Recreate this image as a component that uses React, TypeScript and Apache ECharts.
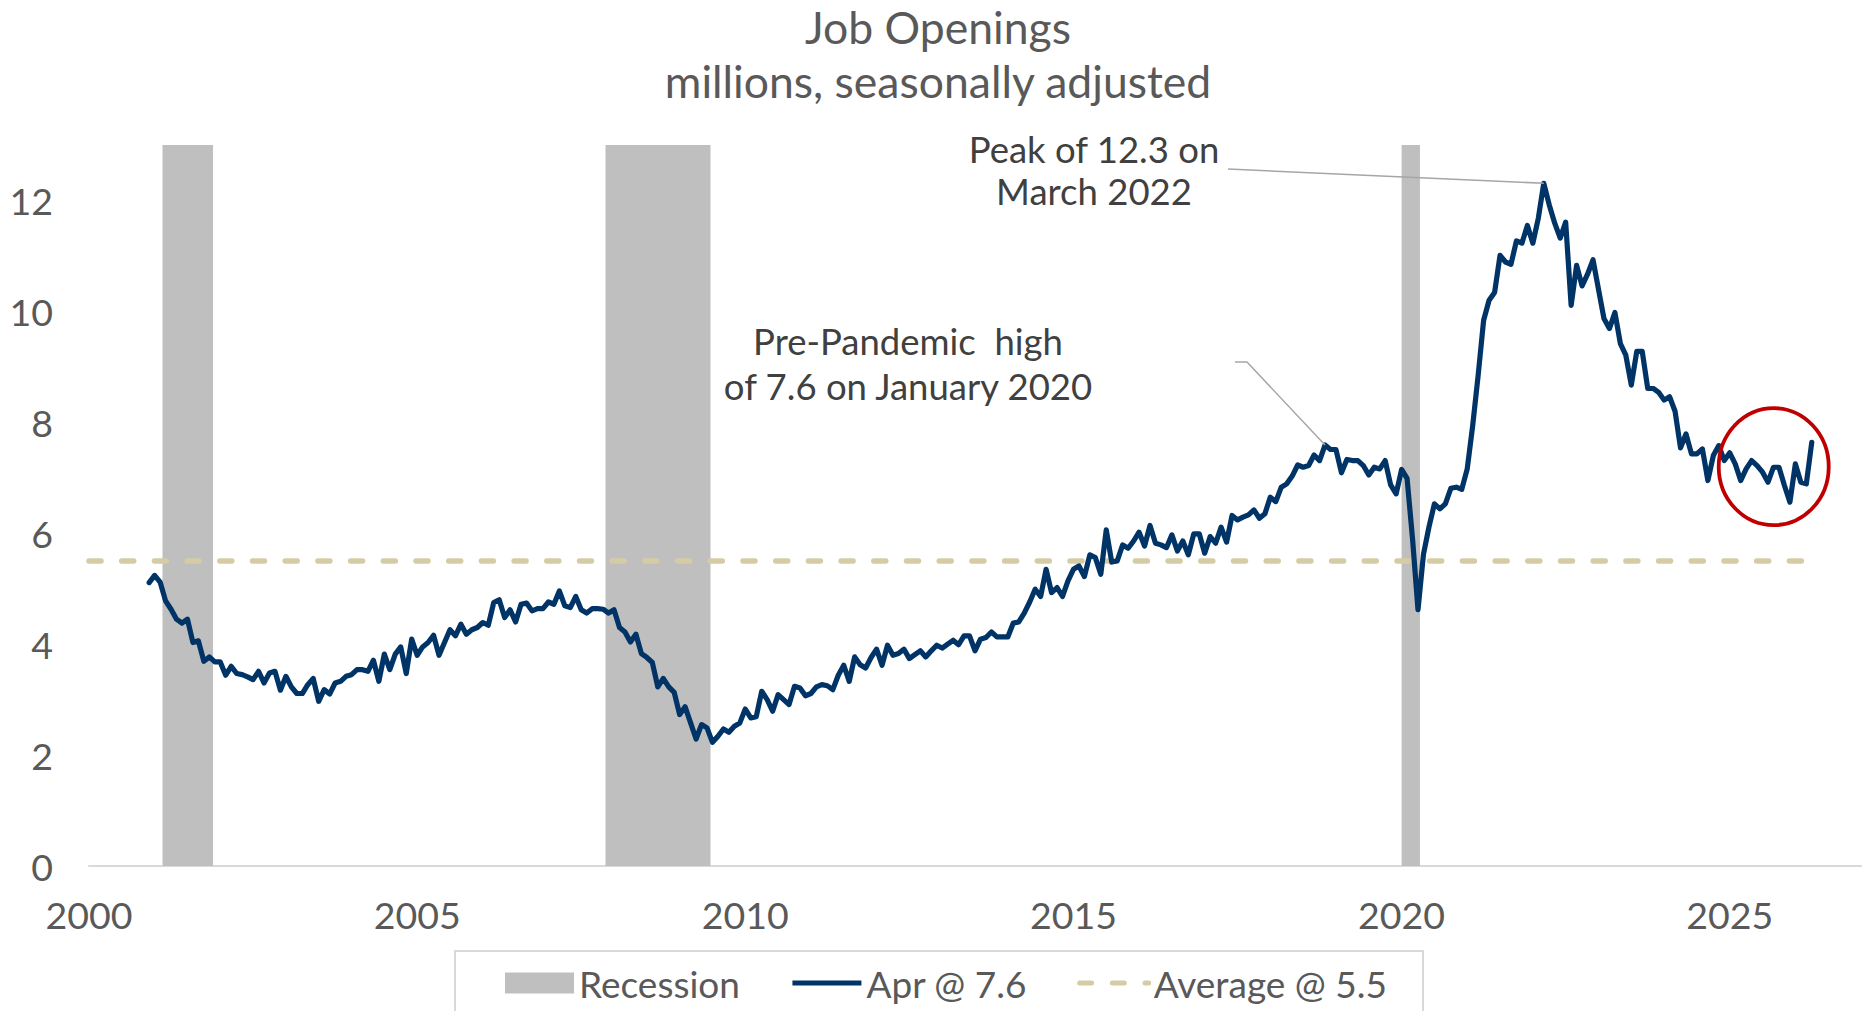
import React, { useEffect, useRef } from "react";
import * as echarts from "echarts";

// ---- Data ----
const TITLE_LINE_1 = "Job Openings";
const TITLE_LINE_2 = "millions, seasonally adjusted";

// Monthly series begins December 2000
const START_YEAR = 2000;
const START_MONTH = 12;

// Job openings, millions (Dec 2000 .. Apr 2026)
const openings = [
  5.11, 5.24, 5.12, 4.78, 4.63, 4.45, 4.38, 4.45, 4.03, 4.06, 3.69, 3.77,
  3.68, 3.68, 3.44, 3.60, 3.47, 3.45, 3.41, 3.36, 3.51, 3.30, 3.48, 3.51,
  3.17, 3.42, 3.23, 3.11, 3.11, 3.27, 3.38, 2.97, 3.18, 3.10, 3.30, 3.33,
  3.42, 3.45, 3.54, 3.54, 3.51, 3.71, 3.33, 3.82, 3.54, 3.82, 3.95, 3.47,
  4.09, 3.80, 3.95, 4.03, 4.16, 3.80, 4.03, 4.26, 4.15, 4.36, 4.18, 4.26,
  4.30, 4.39, 4.34, 4.75, 4.80, 4.48, 4.62, 4.40, 4.72, 4.74, 4.60, 4.64,
  4.64, 4.76, 4.72, 4.96, 4.69, 4.66, 4.86, 4.62, 4.56, 4.64, 4.64, 4.63,
  4.56, 4.62, 4.30, 4.22, 4.04, 4.18, 3.83, 3.76, 3.67, 3.23, 3.38, 3.23,
  3.13, 2.73, 2.87, 2.58, 2.29, 2.55, 2.49, 2.23, 2.34, 2.47, 2.41, 2.52,
  2.58, 2.83, 2.67, 2.69, 3.15, 3.00, 2.79, 3.09, 3.00, 2.91, 3.24, 3.21,
  3.07, 3.11, 3.23, 3.27, 3.25, 3.18, 3.44, 3.62, 3.33, 3.77, 3.63, 3.57,
  3.76, 3.91, 3.62, 3.98, 3.80, 3.83, 3.91, 3.74, 3.81, 3.88, 3.77, 3.88,
  3.98, 3.93, 4.00, 4.07, 3.99, 4.15, 4.15, 3.88, 4.09, 4.12, 4.22, 4.13,
  4.13, 4.13, 4.38, 4.40, 4.56, 4.76, 4.99, 4.86, 5.35, 4.93, 5.02, 4.86,
  5.14, 5.35, 5.41, 5.22, 5.61, 5.56, 5.26, 6.06, 5.48, 5.50, 5.79, 5.73,
  5.86, 6.02, 5.77, 6.14, 5.82, 5.79, 5.74, 5.97, 5.68, 5.86, 5.61, 5.99,
  5.99, 5.64, 5.94, 5.82, 6.11, 5.84, 6.32, 6.24, 6.29, 6.33, 6.42, 6.27,
  6.35, 6.65, 6.57, 6.83, 6.89, 7.03, 7.23, 7.19, 7.22, 7.41, 7.31, 7.59,
  7.51, 7.51, 7.09, 7.33, 7.31, 7.31, 7.22, 7.05, 7.19, 7.16, 7.31, 6.87,
  6.71, 7.15, 6.99, 5.90, 4.62, 5.62, 6.11, 6.53, 6.44, 6.53, 6.81, 6.83,
  6.79, 7.16, 7.94, 8.85, 9.84, 10.20, 10.34, 11.01, 10.89, 10.85, 11.27, 11.23,
  11.55, 11.23, 11.68, 12.31, 11.92, 11.59, 11.32, 11.61, 10.11, 10.83, 10.46, 10.67,
  10.93, 10.40, 9.87, 9.69, 9.98, 9.42, 9.21, 8.67, 9.28, 9.28, 8.61, 8.61,
  8.54, 8.40, 8.46, 8.20, 7.54, 7.79, 7.43, 7.43, 7.52, 6.95, 7.40, 7.58,
  7.31, 7.45, 7.25, 6.95, 7.16, 7.31, 7.22, 7.10, 6.92, 7.19, 7.19, 6.86,
  6.56, 7.25, 6.92, 6.89, 7.64,
];

// Recession periods (decimal years)
const recessionStart = [2001.12, 2007.87, 2020.0];
const recessionEnd = [2001.89, 2009.47, 2020.28];

// Average line
const averageValue = 5.5;
const averageFrom = 2000;
const averageTo = 2026.13;

// Axes
const xMin = 2000;
const xMax = 2027;
const xStep = 5;
const yMin = 0;
const yMax = 13;
const yStep = 2;

// Series names
const SERIES_RECESSION = "Recession";
const SERIES_LINE = "Apr @ 7.6";
const SERIES_AVG = "Average @ 5.5";

// Annotations
const PEAK_TEXT = "Peak of 12.3 on\nMarch 2022";
const PRE_TEXT = "Pre-Pandemic  high\nof 7.6 on January 2020";
const PEAK_INDEX = 255; // Mar 2022
const PRE_INDEX = 215; // pre-pandemic high point
const CIRCLE_CENTER = [2025.67, 7.2];

const FONT = "Lato";
const LINE_COLOR = "#003366";
const AVG_COLOR = "#D5CBA5";
const AVG_DASH = [12, 20.7];

export default function App() {
  const ref = useRef<HTMLDivElement>(null);

  useEffect(() => {
    const chart = echarts.init(ref.current as HTMLDivElement, null, { renderer: "svg" });
    const dates = openings.map((_, i) => START_YEAR + (START_MONTH - 1 + i) / 12);
    const lineData = openings.map((v, i) => [dates[i], v]);
    const recessionData = recessionStart.map((s, i) => [s, recessionEnd[i], yMax]);

    chart.setOption({
      animation: false,
      textStyle: { fontFamily: FONT },
      grid: { left: 89, right: 3, top: 145, bottom: 145, containLabel: false },
      xAxis: {
        type: "value",
        min: xMin,
        max: xMax,
        interval: xStep,
        axisLine: { show: true, lineStyle: { color: "#D9D9D9", width: 2 } },
        axisTick: { show: false },
        splitLine: { show: false },
        axisLabel: {
          color: "#595959",
          fontSize: 37.5,
          fontFamily: FONT,
          margin: 29,
          formatter: (v: number) => (v % xStep === 0 ? String(v) : ""),
        },
      },
      yAxis: {
        type: "value",
        min: yMin,
        max: yMax,
        interval: yStep,
        axisLine: { show: false },
        axisTick: { show: false },
        splitLine: { show: false },
        axisLabel: {
          color: "#595959",
          fontSize: 37.5,
          fontFamily: FONT,
          margin: 36,
          formatter: (v: number) => (v % yStep === 0 ? String(v) : ""),
        },
      },
      legend: {
        left: 505,
        top: 963,
        padding: 0,
        itemWidth: 69,
        itemHeight: 21,
        itemGap: 50,
        textStyle: { color: "#595959", fontSize: 37, fontFamily: FONT, lineHeight: 40 },
        data: [
          { name: SERIES_RECESSION, icon: "rect" },
          {
            name: SERIES_LINE,
            itemStyle: { opacity: 0 },
            lineStyle: { width: 5, color: LINE_COLOR, cap: "butt" },
          },
          {
            name: SERIES_AVG,
            itemStyle: { opacity: 0 },
            lineStyle: { width: 5, color: AVG_COLOR, type: AVG_DASH, cap: "round" },
          },
        ],
      },
      series: [
        {
          name: SERIES_RECESSION,
          type: "custom",
          data: recessionData,
          encode: { x: [0, 1], y: 2 },
          itemStyle: { color: "#BFBFBF" },
          renderItem: (params: any, api: any) => {
            const p0 = api.coord([api.value(0), api.value(2)]);
            const p1 = api.coord([api.value(1), yMin]);
            return {
              type: "rect",
              shape: { x: p0[0], y: p0[1], width: p1[0] - p0[0], height: p1[1] - p0[1] },
              style: { fill: "#BFBFBF" },
            };
          },
          z: 1,
        },
        {
          name: SERIES_AVG,
          type: "line",
          data: [
            [averageFrom, averageValue],
            [averageTo, averageValue],
          ],
          showSymbol: false,
          symbol: "none",
          color: AVG_COLOR,
          lineStyle: { color: AVG_COLOR, width: 5.5, type: AVG_DASH, cap: "round" },
          z: 2,
        },
        {
          name: SERIES_LINE,
          type: "line",
          data: lineData,
          showSymbol: false,
          symbol: "none",
          color: LINE_COLOR,
          lineStyle: { color: LINE_COLOR, width: 5.2, join: "round", cap: "round" },
          z: 3,
        },
      ],
    });

    const peakPx = chart.convertToPixel({ gridIndex: 0 }, lineData[PEAK_INDEX]) as number[];
    const prePx = chart.convertToPixel({ gridIndex: 0 }, lineData[PRE_INDEX]) as number[];
    const circ = chart.convertToPixel({ gridIndex: 0 }, CIRCLE_CENTER) as number[];

    chart.setOption({
      graphic: [
        {
          type: "text",
          x: 938,
          y: 26,
          style: {
            text: TITLE_LINE_1,
            font: `44.5px ${FONT}`,
            fill: "#595959",
            textAlign: "center",
            textVerticalAlign: "middle",
          },
        },
        {
          type: "text",
          x: 938,
          y: 80,
          style: {
            text: TITLE_LINE_2,
            font: `44.5px ${FONT}`,
            fill: "#595959",
            textAlign: "center",
            textVerticalAlign: "middle",
          },
        },
        {
          type: "text",
          x: 1094,
          y: 170,
          z: 10,
          style: {
            text: PEAK_TEXT,
            font: `36.5px ${FONT}`,
            lineHeight: 42,
            fill: "#404040",
            textAlign: "center",
            textVerticalAlign: "middle",
          },
        },
        {
          type: "text",
          x: 908,
          y: 363,
          z: 10,
          style: {
            text: PRE_TEXT,
            font: `36.5px ${FONT}`,
            lineHeight: 45,
            fill: "#404040",
            textAlign: "center",
            textVerticalAlign: "middle",
          },
        },
        {
          type: "polyline",
          z: 10,
          shape: { points: [[1228, 169], [peakPx[0], peakPx[1]]] },
          style: { stroke: "#A6A6A6", lineWidth: 1.5, fill: null },
        },
        {
          type: "polyline",
          z: 10,
          shape: { points: [[1235, 362], [1247, 362], [prePx[0], prePx[1]]] },
          style: { stroke: "#A6A6A6", lineWidth: 1.5, fill: null },
        },
        {
          type: "ellipse",
          z: 10,
          shape: { cx: circ[0], cy: circ[1], rx: 55, ry: 58.5 },
          style: { stroke: "#C00000", lineWidth: 3.8, fill: null },
        },
        {
          type: "rect",
          z: 0,
          shape: { x: 455, y: 951, width: 968, height: 90 },
          style: { stroke: "#D9D9D9", lineWidth: 2, fill: null },
        },
      ],
    });

    return () => {
      chart.dispose();
    };
  }, []);

  return (
    <div
      ref={ref}
      style={{ position: "fixed", left: 0, top: 0, width: 1864, height: 1011, background: "#ffffff" }}
    />
  );
}
